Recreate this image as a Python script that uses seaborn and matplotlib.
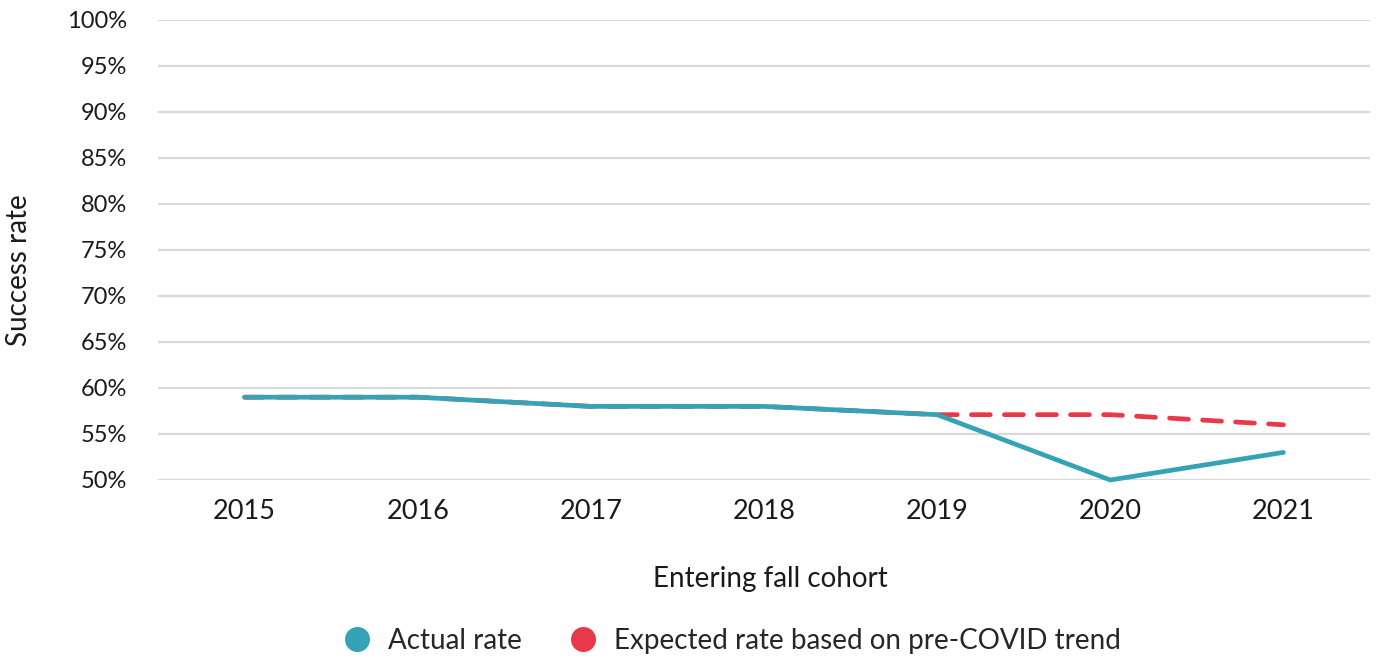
import pandas as pd
import seaborn as sns
import matplotlib.pyplot as plt
from matplotlib.lines import Line2D
from matplotlib.ticker import PercentFormatter

years = [2015, 2016, 2017, 2018, 2019, 2020, 2021]
actual_rate = [59.0, 59.0, 58.0, 58.0, 57.1, 50.0, 53.0]
expected_rate = [59.0, 59.0, 58.0, 58.0, 57.1, 57.1, 56.0]

teal = '#35A2B5'
red = '#E8394A'

sns.set_theme(style='white')
plt.rcParams['font.family'] = ['Lato', 'DejaVu Sans']

df = pd.DataFrame({'Year': years, 'Actual': actual_rate, 'Expected': expected_rate})

fig = plt.figure(figsize=(13.79, 6.58), dpi=100)
ax = fig.add_axes([158 / 1379, 1 - 480 / 658, (1370 - 158) / 1379, 460 / 658])

# expected trend underneath, actual on top
sns.lineplot(data=df, x='Year', y='Expected', ax=ax, color=red, linewidth=3.4,
             solid_capstyle='round')
ax.lines[-1].set_linestyle((0, (4, 3)))
ax.lines[-1].set_dash_capstyle('round')
sns.lineplot(data=df, x='Year', y='Actual', ax=ax, color=teal, linewidth=3.4,
             solid_capstyle='round', solid_joinstyle='round')
for ln in ax.lines:
    ln.set_clip_on(False)

ax.set_xlim(2014.5, 2021.5)
ax.set_ylim(50, 100)
ax.set_yticks(range(50, 101, 5))
ax.set_xticks(years)
ax.yaxis.set_major_formatter(PercentFormatter(decimals=0))
ax.grid(axis='y', color='#D9D9D9', linewidth=1.6)
ax.set_axisbelow(True)
for s in ax.spines.values():
    s.set_visible(False)
ax.tick_params(axis='y', length=0, pad=22, labelsize=17, labelcolor='#1a1a1a')
ax.tick_params(axis='x', length=0, pad=14, labelsize=19.5, labelcolor='#1a1a1a')

ax.set_xlabel('Entering fall cohort', fontsize=20, color='#1a1a1a')
ax.xaxis.set_label_coords(0.505, -0.187)
ax.set_ylabel('Success rate', fontsize=20, color='#1a1a1a')
ax.yaxis.set_label_coords(-0.104, 0.457)

handles = [Line2D([], [], marker='o', linestyle='', markersize=17, color=teal),
           Line2D([], [], marker='o', linestyle='', markersize=17, color=red)]
fig.legend(handles, ['Actual rate', 'Expected rate based on pre-COVID trend'],
           loc='center', bbox_to_anchor=(725 / 1379, 1 - 641 / 658), ncol=2,
           frameon=False, fontsize=20, handletextpad=0.1, columnspacing=1.2)

fig.savefig('out.png', dpi=100)
